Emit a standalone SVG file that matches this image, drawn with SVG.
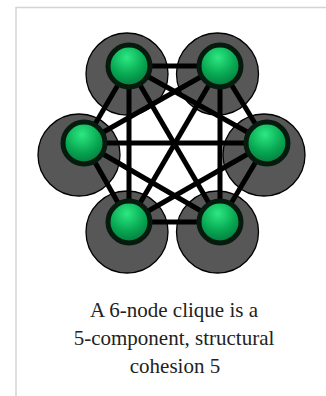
<svg xmlns="http://www.w3.org/2000/svg" width="326" height="396" viewBox="0 0 326 396">
<defs>
<radialGradient id="g" cx="0.45" cy="0.3" r="0.75">
<stop offset="0" stop-color="#2de882"/>
<stop offset="0.55" stop-color="#08a852"/>
<stop offset="1" stop-color="#04713a"/>
</radialGradient>
</defs>
<style>
.halo{fill:#575757;stroke:#000;stroke-width:1.3}
.node{fill:url(#g);stroke:#061a0d;stroke-width:5}
.edge{stroke:#000;stroke-width:5;fill:none}
.cap{font-family:"Liberation Serif","Times New Roman",serif;font-size:21px;fill:#222;text-anchor:middle}
</style>
<rect x="16" y="7.5" width="320" height="400" fill="#fff" stroke="#d4d4d4" stroke-width="1.5"/>
<g id="halos">
<circle class="halo" cx="79" cy="155" r="41"/>
<circle class="halo" cx="264" cy="155" r="41"/>
<circle class="halo" cx="127" cy="74" r="41"/>
<circle class="halo" cx="217.5" cy="74" r="41"/>
<circle class="halo" cx="127" cy="232" r="41"/>
<circle class="halo" cx="217.5" cy="232" r="41"/>
</g>
<g id="edges" class="edge">
<line x1="129" y1="66" x2="220" y2="66"/>
<line x1="129" y1="66" x2="84" y2="143"/>
<line x1="129" y1="66" x2="267" y2="143"/>
<line x1="129" y1="66" x2="129" y2="222"/>
<line x1="129" y1="66" x2="220" y2="222"/>
<line x1="220" y1="66" x2="84" y2="143"/>
<line x1="220" y1="66" x2="267" y2="143"/>
<line x1="220" y1="66" x2="129" y2="222"/>
<line x1="220" y1="66" x2="220" y2="222"/>
<line x1="84" y1="143" x2="267" y2="143"/>
<line x1="84" y1="143" x2="129" y2="222"/>
<line x1="84" y1="143" x2="220" y2="222"/>
<line x1="267" y1="143" x2="129" y2="222"/>
<line x1="267" y1="143" x2="220" y2="222"/>
<line x1="129" y1="222" x2="220" y2="222"/>
</g>
<g id="n1"><circle class="node" cx="129" cy="66" r="21"/></g>
<g id="n2"><circle class="node" cx="220" cy="66" r="21"/></g>
<g id="n3"><circle class="node" cx="84" cy="143" r="21"/></g>
<g id="n4"><circle class="node" cx="267" cy="143" r="21"/></g>
<g id="n5"><circle class="node" cx="129" cy="222" r="21"/></g>
<g id="n6"><circle class="node" cx="220" cy="222" r="21"/></g>
<g id="caption">
<text class="cap" x="174" y="317">A 6-node clique is a</text>
<text class="cap" x="174" y="345">5-component, structural</text>
<text class="cap" x="175" y="373">cohesion 5</text>
</g>
</svg>
